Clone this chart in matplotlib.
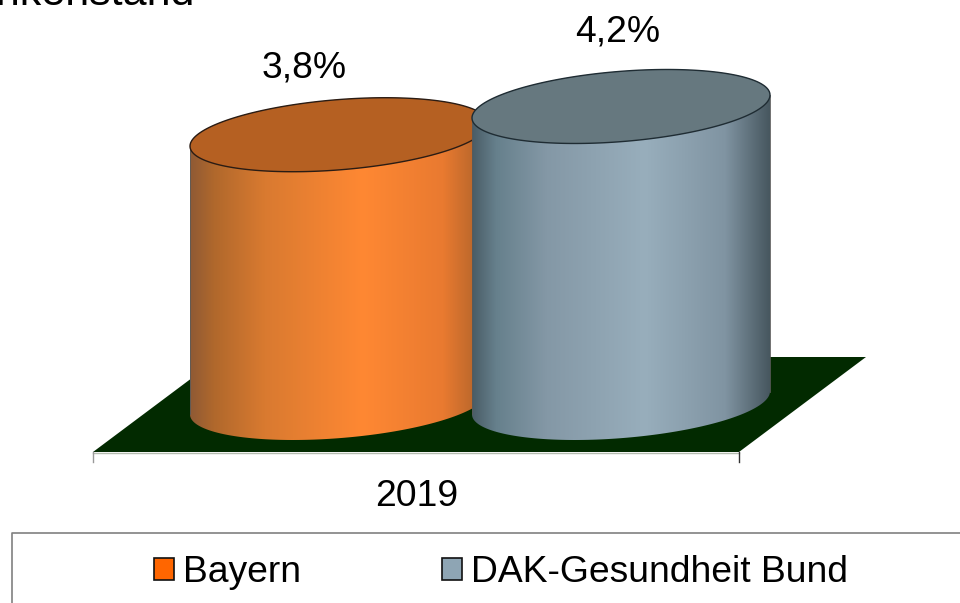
import numpy as np
import matplotlib
matplotlib.use('Agg')
import matplotlib.pyplot as plt
from matplotlib.patches import Polygon, Rectangle
from matplotlib.path import Path

plt.rcParams['font.family'] = ['Liberation Sans', 'DejaVu Sans']

serien = ['Bayern', 'DAK-Gesundheit Bund']
werte = [3.8, 4.2]
wert_labels = ['3,8%', '4,2%']
kategorie = '2019'
titel = 'Krankenstand'

farbe_legende = ['#ff6600', '#8ea5b4']
farbe_deckel = ['#b56022', '#66787f']
stops = [0, 0.08, 0.25, 0.58, 0.85, 1]
verlauf = [
    ['#8f5a35', '#b0682c', '#d97a30', '#ff8833', '#e97a30', '#a8602a'],
    ['#4a5c66', '#66808c', '#8498a6', '#98aebc', '#8094a2', '#47575f'],
]

PX = 70.6          # pixel je Prozentpunkt
BASIS = 403        # pixelzeile von 0%
XR, YR, RHO = 149, 37, 0.31
mitte_x = [339, 621]


def py(p):
    # pixelzeile -> wert
    return (BASIS - p) / PX


def ellipse(cx, v, t):
    x = cx + XR * np.cos(t)
    y = v + YR / PX * (RHO * np.cos(t) + np.sqrt(1 - RHO**2) * np.sin(t))
    return x, y


def hex_rgb(c):
    return [int(c[i:i + 2], 16) / 255 for i in (1, 3, 5)]


fig = plt.figure(figsize=(9.6, 6.03), dpi=100)
ax = fig.add_axes([0, 0, 1, 1])
ax.axis('off')

# boden
ax.add_patch(Polygon([(93, py(452)), (739, py(452)), (866, py(357)), (220, py(357))],
                     closed=True, fc='#022a00', ec='none', zorder=1))
ax.plot([93, 739], [py(452.5), py(452.5)], color='#b4bcb0', lw=1, zorder=1.5)
ax.plot([93, 93], [py(452), py(462)], color='#999999', lw=1, zorder=1.5)
ax.plot([739, 739], [py(452), py(462)], color='#333333', lw=1, zorder=1.5)

# zylinder
for i, v in enumerate(werte):
    cx = mitte_x[i]
    z = 2 + i
    t_unten = np.linspace(np.pi, 2 * np.pi, 120)
    t_oben = np.linspace(0, np.pi, 120)
    xu, yu = ellipse(cx, 0, t_unten)
    xo, yo = ellipse(cx, v, t_oben)
    pts = np.column_stack([np.r_[xu, xo], np.r_[yu, yo]])

    s = np.linspace(0, 1, 300)
    rgb = np.array([hex_rgb(c) for c in verlauf[i]])
    bild = np.stack([np.interp(s, stops, rgb[:, k]) for k in range(3)], axis=-1)[None, :, :]
    im = ax.imshow(bild, extent=[cx - XR, cx + XR, py(470), py(40)], aspect='auto',
                   interpolation='bilinear', zorder=z)
    im.set_clip_path(Path(np.vstack([pts, pts[0]]), closed=True), transform=ax.transData)

    # nur die seitenkanten
    ax.plot([xu[0], xo[-1]], [yu[0], yo[-1]], color='#5a5a5a', lw=0.6, zorder=z + 0.2)
    ax.plot([xu[-1], xo[0]], [yu[-1], yo[0]], color='#5a5a5a', lw=0.6, zorder=z + 0.2)

    t = np.linspace(0, 2 * np.pi, 240)
    xd, yd = ellipse(cx, v, t)
    ax.add_patch(Polygon(np.column_stack([xd, yd]), closed=True, fc=farbe_deckel[i],
                         ec='#2a1c14' if i == 0 else '#1f2c33', lw=1, zorder=z + 0.4))

ax.set_xlim(0, 960)
ax.set_ylim(py(603), py(0))

# beschriftung
ax.text(304, py(68), wert_labels[0], fontsize=26.8, ha='center', va='center', color='black', zorder=6)
ax.text(618, py(32), wert_labels[1], fontsize=26.8, ha='center', va='center', color='black', zorder=6)
ax.text(416.5, py(497), kategorie, fontsize=26.8, ha='center', va='center', color='black')
ax.text(195, py(5), titel, fontsize=31, ha='right', va='baseline', color='black', clip_on=True)

# legende
ax.plot([960, 12, 12], [py(533), py(533), py(603)], color='#808080', lw=1.2)
handles = [Rectangle((0, 0), 1, 1, fc=farbe_legende[k], ec='#111111', lw=1.2) for k in range(2)]
ax.legend(handles, serien, loc='center left', bbox_to_anchor=(154 / 960, 1 - 573 / 603),
          bbox_transform=ax.transAxes, ncol=2, frameon=False, fontsize=26.8,
          handlelength=0.53, handleheight=0.53, handletextpad=0.25,
          columnspacing=3.79, borderpad=0, borderaxespad=0, labelcolor='black')

fig.savefig('out.png', dpi=100)
